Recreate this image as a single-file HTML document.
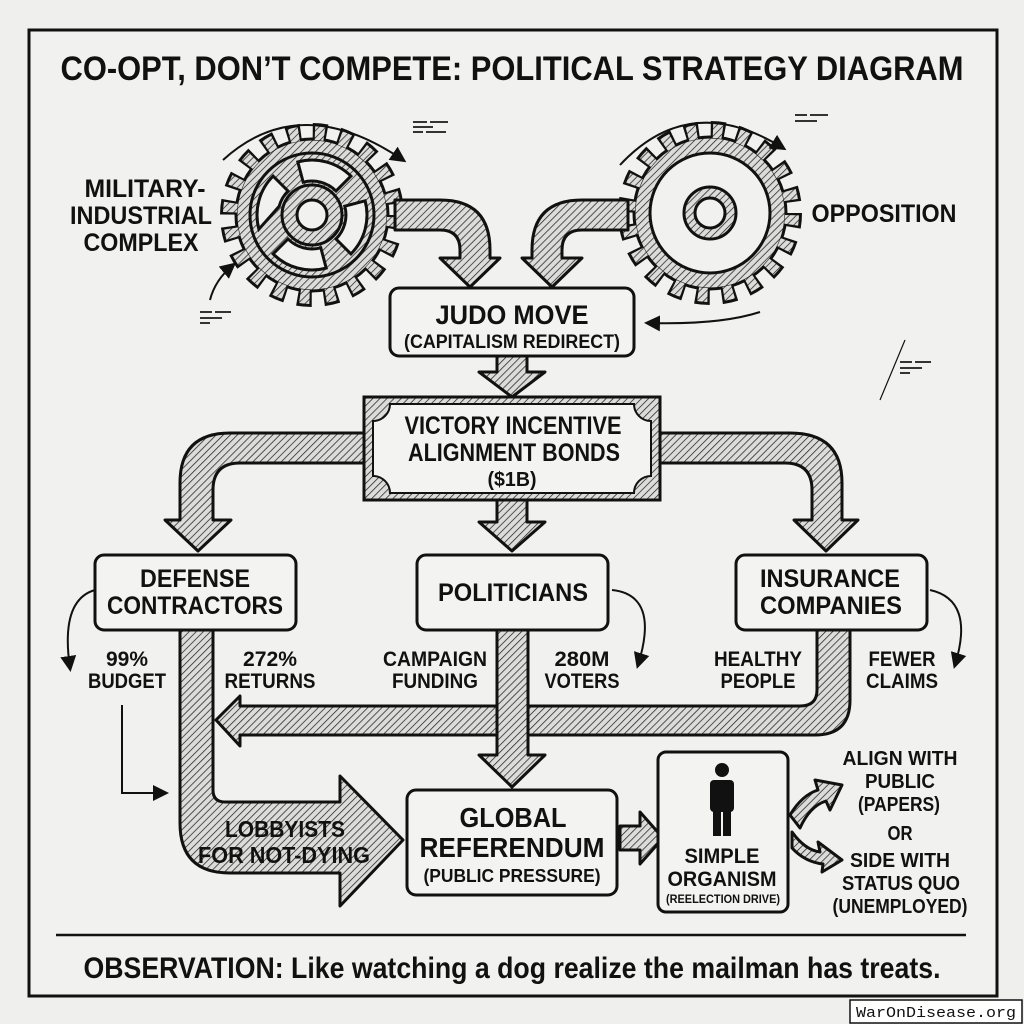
<!DOCTYPE html>
<html><head><meta charset="utf-8"><style>
html,body{margin:0;padding:0;background:#efefed;}
svg{display:block}
text{font-family:"Liberation Sans Narrow","Liberation Sans",sans-serif;font-weight:bold;fill:#111;text-anchor:middle}
</style></head><body>
<svg width="1024" height="1024" viewBox="0 0 1024 1024" xmlns="http://www.w3.org/2000/svg">
<defs>
<pattern id="h" patternUnits="userSpaceOnUse" width="5" height="5" patternTransform="rotate(45)">
<rect width="5" height="5" fill="#dcdcda"/><line x1="0" y1="0" x2="0" y2="5" stroke="#222" stroke-width="1.5"/>
</pattern>
<marker id="ah" markerWidth="8" markerHeight="8" refX="6" refY="4" orient="auto"><path d="M0,0 L8,4 L0,8 Z" fill="#111"/></marker>
</defs>
<rect width="1024" height="1024" fill="#efefed"/>
<rect x="29" y="30" width="968" height="966" fill="#f1f1ef" stroke="#111" stroke-width="3"/>
<text x="512" y="80" font-size="34" textLength="903" lengthAdjust="spacingAndGlyphs">CO-OPT, DON’T COMPETE: POLITICAL STRATEGY DIAGRAM</text>

<!-- left gear -->
<g>
<circle cx="312" cy="215" r="82" fill="none" stroke="#111" stroke-width="20" stroke-dasharray="14 11.8"/>
<circle cx="312" cy="215" r="76" fill="url(#h)" stroke="#111" stroke-width="3"/>
<circle cx="312" cy="215" r="82" fill="none" stroke="url(#h)" stroke-width="14" stroke-dasharray="9.5 16.3" stroke-dashoffset="-2.25"/>
<circle cx="312" cy="215" r="62" fill="url(#h)" stroke="#111" stroke-width="3"/>
<g stroke="#111" stroke-width="3" fill="#f1f1ef">
<path d="M297.8,161.9 A55,55 0 0 1 350.9,176.1 L336,191 A34,34 0 0 0 303.2,182.2 Z"/>
<path d="M365.1,200.8 A55,55 0 0 1 350.9,253.9 L336,239 A34,34 0 0 0 344.8,206.2 Z"/>
<path d="M326.2,268.1 A55,55 0 0 1 273.1,253.9 L288,239 A34,34 0 0 0 320.8,247.8 Z"/>
<path d="M258.9,229.2 A55,55 0 0 1 273.1,176.1 L288,191 A34,34 0 0 0 279.2,206.2 Z"/>
</g>
<circle cx="312" cy="215" r="30" fill="url(#h)" stroke="#111" stroke-width="3"/>
<circle cx="312" cy="215" r="15" fill="#f1f1ef" stroke="#111" stroke-width="3"/>
</g>
<!-- right gear -->
<g>
<circle cx="710" cy="213" r="82" fill="none" stroke="#111" stroke-width="20" stroke-dasharray="14 11.8"/>
<circle cx="710" cy="213" r="76" fill="url(#h)" stroke="#111" stroke-width="3"/>
<circle cx="710" cy="213" r="82" fill="none" stroke="url(#h)" stroke-width="14" stroke-dasharray="9.5 16.3" stroke-dashoffset="-2.25"/>
<circle cx="710" cy="213" r="60" fill="#f1f1ef" stroke="#111" stroke-width="3"/>
<circle cx="710" cy="213" r="26" fill="url(#h)" stroke="#111" stroke-width="3"/>
<circle cx="710" cy="213" r="15" fill="#f1f1ef" stroke="#111" stroke-width="3"/>
</g>
<!-- rotation arrows -->
<g fill="none" stroke="#111" stroke-width="2">
<path d="M223,160 Q300,90 403,160" marker-end="url(#ah)"/>
<path d="M620,165 Q690,90 783,148" marker-end="url(#ah)"/>
<path d="M210,300 Q215,280 233,265" marker-end="url(#ah)"/>
<path d="M760,312 Q720,325 648,323" marker-end="url(#ah)"/>
<path d="M122,705 L122,793 L165,793" marker-end="url(#ah)"/>
<path d="M95,590 Q60,600 70,668" marker-end="url(#ah)"/>
<path d="M612,590 Q660,595 638,665" marker-end="url(#ah)"/>
<path d="M930,590 Q975,600 955,665" marker-end="url(#ah)"/>
<path d="M905,340 L880,400" stroke-width="1.2"/>
</g>
<g stroke="#333" stroke-width="2">
<path d="M413,122h14M430,122h18M413,127h20M413,132h10M426,132h20"/>
<path d="M795,115h12M810,115h18M795,121h22"/>
<path d="M200,312h12M215,312h16M200,318h22M200,323h10"/>
<path d="M900,362h12M915,362h16M900,368h22M900,373h10"/>
</g>

<text x="145" y="197" font-size="25" textLength="121" lengthAdjust="spacingAndGlyphs">MILITARY-</text>
<text x="141" y="224" font-size="25" textLength="142" lengthAdjust="spacingAndGlyphs">INDUSTRIAL</text>
<text x="141" y="251" font-size="25" textLength="115" lengthAdjust="spacingAndGlyphs">COMPLEX</text>
<text x="884" y="222" font-size="25" textLength="145" lengthAdjust="spacingAndGlyphs">OPPOSITION</text>

<!-- arrows -->
<g fill="url(#h)" stroke="#111" stroke-width="3" stroke-linejoin="round">
<path d="M395,200 L440,200 Q490,200 490,250 L490,258 L500,258 L470,287 L440,258 L460,258 L460,250 Q460,230 440,230 L395,230 Z"/>
<path d="M628,200 L582,200 Q532,200 532,250 L532,258 L522,258 L552,287 L582,258 L562,258 L562,250 Q562,230 582,230 L628,230 Z"/>
<path d="M497,356 L527,356 L527,372 L545,372 L512,397 L479,372 L497,372 Z"/>
<path d="M364,433 L230,433 Q180,433 180,483 L180,520 L165,520 L198,551 L231,520 L213,520 L213,490 Q213,463 240,463 L364,463 Z"/>
<path d="M660,433 L790,433 Q842,433 842,483 L842,520 L858,520 L826,551 L794,520 L812,520 L812,490 Q812,463 785,463 L660,463 Z"/>
<path d="M497,500 L527,500 L527,522 L545,522 L512,551 L479,522 L497,522 Z"/>
<path d="M180,630 L213,630 L213,790 Q213,802 225,802 L340,802 L340,776 L403,840 L340,906 L340,873 L230,873 Q180,873 180,823 Z"/>
<path d="M817,630 L850,630 L850,700 Q850,735 815,735 L240,735 L240,746 L216,720 L240,696 L240,706 L800,706 Q817,706 817,690 Z"/>
<path d="M497,630 L528,630 L528,755 L545,755 L512,787 L479,755 L497,755 Z"/>
<path d="M620,826 L640,826 L640,812 L663,838 L640,864 L640,850 L620,850 Z"/>
<path d="M790,815 Q802,795 818,790 L815,780 L842,785 L830,810 L826,801 Q810,806 800,828 Z"/>
<path d="M792,832 Q805,850 820,852 L818,842 L842,860 L822,872 L823,864 Q805,862 792,848 Z"/>
</g>

<!-- boxes -->
<g stroke="#111" stroke-width="3" fill="#f3f3f1">
<rect x="390" y="288" width="244" height="68" rx="9"/>
<rect x="364" y="397" width="296" height="103" fill="url(#h)"/>
<path d="M390,404 L634,404 A17,17 0 0 0 651,421 L651,476 A17,17 0 0 0 634,493 L390,493 A17,17 0 0 0 373,476 L373,421 A17,17 0 0 0 390,404 Z" stroke-width="2"/>
<rect x="95" y="555" width="201" height="75" rx="9"/>
<rect x="417" y="555" width="191" height="75" rx="9"/>
<rect x="736" y="555" width="191" height="75" rx="9"/>
<rect x="407" y="790" width="210" height="105" rx="9"/>
<rect x="658" y="752" width="130" height="160" rx="8"/>
</g>
<!-- person -->
<g fill="#111">
<circle cx="722" cy="770" r="7"/>
<rect x="710" y="780" width="24" height="32" rx="4"/>
<rect x="713" y="808" width="8" height="28"/>
<rect x="723" y="808" width="8" height="28"/>
</g>

<text x="512" y="324" font-size="27" textLength="153" lengthAdjust="spacingAndGlyphs">JUDO MOVE</text>
<text x="512" y="348" font-size="19" textLength="216" lengthAdjust="spacingAndGlyphs">(CAPITALISM REDIRECT)</text>
<text x="513" y="434" font-size="25" textLength="217" lengthAdjust="spacingAndGlyphs">VICTORY INCENTIVE</text>
<text x="514" y="461" font-size="25" textLength="212" lengthAdjust="spacingAndGlyphs">ALIGNMENT BONDS</text>
<text x="512" y="486" font-size="20" textLength="49" lengthAdjust="spacingAndGlyphs">($1B)</text>
<text x="195" y="587" font-size="25" textLength="110" lengthAdjust="spacingAndGlyphs">DEFENSE</text>
<text x="195" y="614" font-size="25" textLength="176" lengthAdjust="spacingAndGlyphs">CONTRACTORS</text>
<text x="513" y="601" font-size="25" textLength="150" lengthAdjust="spacingAndGlyphs">POLITICIANS</text>
<text x="830" y="587" font-size="25" textLength="140" lengthAdjust="spacingAndGlyphs">INSURANCE</text>
<text x="831" y="614" font-size="25" textLength="142" lengthAdjust="spacingAndGlyphs">COMPANIES</text>

<g font-size="21">
<text x="127" y="666" textLength="42" lengthAdjust="spacingAndGlyphs">99%</text>
<text x="127" y="688" textLength="78" lengthAdjust="spacingAndGlyphs">BUDGET</text>
<text x="270" y="666" textLength="54" lengthAdjust="spacingAndGlyphs">272%</text>
<text x="270" y="688" textLength="91" lengthAdjust="spacingAndGlyphs">RETURNS</text>
<text x="435" y="666" textLength="104" lengthAdjust="spacingAndGlyphs">CAMPAIGN</text>
<text x="435" y="688" textLength="86" lengthAdjust="spacingAndGlyphs">FUNDING</text>
<text x="582" y="666" textLength="55" lengthAdjust="spacingAndGlyphs">280M</text>
<text x="582" y="688" textLength="75" lengthAdjust="spacingAndGlyphs">VOTERS</text>
<text x="758" y="666" textLength="88" lengthAdjust="spacingAndGlyphs">HEALTHY</text>
<text x="758" y="688" textLength="75" lengthAdjust="spacingAndGlyphs">PEOPLE</text>
<text x="902" y="666" textLength="67" lengthAdjust="spacingAndGlyphs">FEWER</text>
<text x="902" y="688" textLength="72" lengthAdjust="spacingAndGlyphs">CLAIMS</text>
</g>
<text x="285" y="837" font-size="23" textLength="120" lengthAdjust="spacingAndGlyphs">LOBBYISTS</text>
<text x="284" y="863" font-size="23" textLength="172" lengthAdjust="spacingAndGlyphs">FOR NOT-DYING</text>
<text x="513" y="827" font-size="28" textLength="107" lengthAdjust="spacingAndGlyphs">GLOBAL</text>
<text x="512" y="857" font-size="28" textLength="185" lengthAdjust="spacingAndGlyphs">REFERENDUM</text>
<text x="512" y="882" font-size="18" textLength="177" lengthAdjust="spacingAndGlyphs">(PUBLIC PRESSURE)</text>
<text x="722" y="863" font-size="21" textLength="75" lengthAdjust="spacingAndGlyphs">SIMPLE</text>
<text x="722" y="886" font-size="21" textLength="109" lengthAdjust="spacingAndGlyphs">ORGANISM</text>
<text x="723" y="903" font-size="12" textLength="114" lengthAdjust="spacingAndGlyphs">(REELECTION DRIVE)</text>
<g font-size="20">
<text x="900" y="765" textLength="115" lengthAdjust="spacingAndGlyphs">ALIGN WITH</text>
<text x="900" y="788" textLength="70" lengthAdjust="spacingAndGlyphs">PUBLIC</text>
<text x="899" y="811" textLength="82" lengthAdjust="spacingAndGlyphs">(PAPERS)</text>
<text x="900" y="840" textLength="25" lengthAdjust="spacingAndGlyphs">OR</text>
<text x="900" y="867" textLength="100" lengthAdjust="spacingAndGlyphs">SIDE WITH</text>
<text x="901" y="890" textLength="118" lengthAdjust="spacingAndGlyphs">STATUS QUO</text>
<text x="900" y="913" textLength="135" lengthAdjust="spacingAndGlyphs">(UNEMPLOYED)</text>
</g>
<line x1="56" y1="935" x2="966" y2="935" stroke="#111" stroke-width="2.5"/>
<text x="512" y="978" font-size="30" textLength="857" lengthAdjust="spacingAndGlyphs">OBSERVATION: Like watching a dog realize the mailman has treats.</text>
<rect x="850" y="1000" width="172" height="23" fill="#fff" stroke="#111" stroke-width="1.5"/>
<text x="936" y="1017" font-size="15" style="font-family:'Liberation Mono',monospace;font-weight:normal" textLength="160" lengthAdjust="spacingAndGlyphs">WarOnDisease.org</text>
</svg>
</body></html>
